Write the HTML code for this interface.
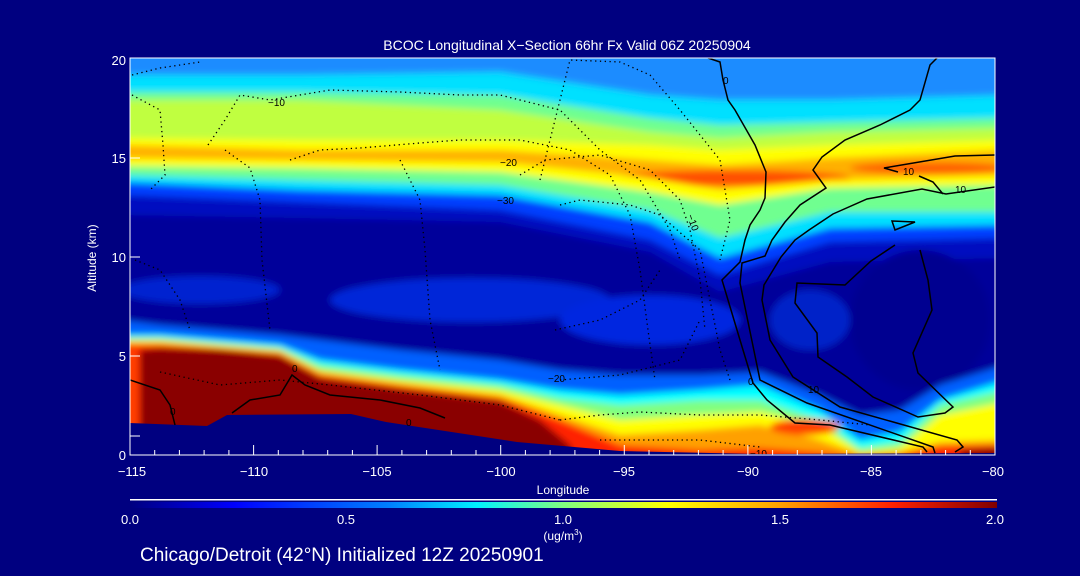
<!DOCTYPE html>
<html><head><meta charset="utf-8"><style>
html,body{margin:0;padding:0;background:#000080;}
svg{display:block;font-family:"Liberation Sans",sans-serif;}
</style></head><body>
<svg width="1080" height="576" viewBox="0 0 1080 576" xmlns="http://www.w3.org/2000/svg">
<defs>
<clipPath id="pc"><rect x="130" y="58" width="865" height="397"/></clipPath>
<filter id="bl" x="-5%" y="-5%" width="110%" height="110%"><feGaussianBlur stdDeviation="3.5"/></filter>
<linearGradient id="cb" x1="0" x2="1" y1="0" y2="0">
<stop offset="0" stop-color="#00007f"/><stop offset="0.12" stop-color="#0000ff"/>
<stop offset="0.3" stop-color="#0080ff"/><stop offset="0.4" stop-color="#00f0ff"/>
<stop offset="0.5" stop-color="#80ff80"/><stop offset="0.62" stop-color="#ffff00"/>
<stop offset="0.75" stop-color="#ffa000"/><stop offset="0.88" stop-color="#ff2000"/>
<stop offset="1" stop-color="#800000"/></linearGradient>
</defs>
<rect width="1080" height="576" fill="#000080"/>
<g clip-path="url(#pc)">
<g filter="url(#bl)">
<rect x="120" y="50" width="890" height="420" fill="#1a8cff"/>
<polygon fill="#00e0ff" points="120,75 300,75 500,72 650,95 720,100 830,100 1005,95 1005,470 120,470"/>
<polygon fill="#70ff90" points="120,92 300,92 500,95 650,118 720,125 830,122 1005,118 1005,470 120,470"/>
<polygon fill="#c0ff40" points="120,100 300,100 500,110 650,132 720,138 830,132 1005,128 1005,470 120,470"/>
<polygon fill="#ffff00" points="120,138 300,140 500,140 650,145 720,150 830,145 1005,140 1005,470 120,470"/>
<polygon fill="#ffb000" points="120,145 300,150 500,150 650,160 720,165 830,158 1005,150 1005,470 120,470"/>
<ellipse cx="730" cy="178" rx="120" ry="8" fill="#ff5000"/>
<ellipse cx="930" cy="168" rx="80" ry="6" fill="#ff6000"/>
<polygon fill="#ffff00" points="120,158 300,160 500,162 650,178 720,190 830,180 1005,175 1005,470 120,470"/>
<polygon fill="#70ff90" points="120,166 300,168 500,172 650,192 720,205 830,188 1005,185 1005,470 120,470"/>
<polygon fill="#00e0ff" points="120,175 300,180 500,185 650,210 720,238 830,212 1005,212 1005,470 120,470"/>
<polygon fill="#0040ff" points="120,182 300,190 500,195 650,222 720,258 830,228 1005,225 1005,470 120,470"/>
<polygon fill="#0010c0" points="120,195 300,202 500,210 650,240 720,275 830,242 1005,238 1005,470 120,470"/>
<polygon fill="#00009a" points="120,215 300,218 500,222 650,252 720,292 830,262 1005,258 1005,470 120,470"/>
<ellipse cx="200" cy="290" rx="80" ry="14" fill="#0020d0"/>
<ellipse cx="470" cy="300" rx="140" ry="22" fill="#0028d8"/>
<ellipse cx="650" cy="320" rx="90" ry="25" fill="#0028e0"/>
<ellipse cx="810" cy="320" rx="40" ry="30" fill="#0020c8"/>
<ellipse cx="920" cy="320" rx="70" ry="70" fill="#000090"/>
<polygon fill="#0060ff" points="120,320 160,325 220,330 280,335 320,340 400,350 500,360 560,370 620,375 700,375 760,372 820,395 860,415 900,410 940,385 1005,365 1005,470 120,470"/>
<polygon fill="#00ffff" points="120,335 160,335 220,340 280,345 320,360 400,370 500,380 560,390 620,395 700,390 760,385 820,410 860,440 900,432 940,400 1005,380 1005,470 120,470"/>
<polygon fill="#80ff80" points="120,338 160,338 220,343 280,348 320,365 400,375 500,385 560,398 620,405 700,400 760,400 820,420 860,448 900,442 940,405 1005,390 1005,470 120,470"/>
<polygon fill="#ffff00" points="120,340 160,340 220,345 280,350 320,370 400,380 500,390 560,405 620,420 700,415 760,412 820,425 860,452 900,448 940,415 1005,402 1005,470 120,470"/>
<polygon fill="#ffa000" points="120,342 160,342 220,347 280,352 320,372 400,383 500,395 560,415 620,435 700,430 760,425 820,440 860,454 900,452 940,442 1005,440 1005,470 120,470"/>
<ellipse cx="805" cy="427" rx="35" ry="8" fill="#ff4000"/>
<polygon fill="#ff2000" points="120,345 160,345 220,348 280,353 320,375 400,386 500,398 560,420 620,445 700,450 760,448 820,452 860,456 900,454 940,446 1005,445 1005,470 120,470"/>
<polygon fill="#8a0000" points="140,350 160,348 220,350 280,356 320,378 400,389 500,401 540,420 570,445 580,470 140,470"/>
<rect x="120" y="350" width="18" height="80" fill="#ff4000"/>
<polygon fill="#8a0000" points="960,450 1005,447 1005,470 960,470"/>
</g>
<polygon fill="#000080" points="130,423 207,426 227,415 351,414 386,422 517,442 620,451 758,454 995,453 995,460 130,460"/>
<g fill="none" stroke="#000" stroke-width="1.5">
<polyline points="708,58 720,62 723,80 728,100 735,110 755,145 766,172 765,198 760,210 750,225 745,240 740,262 722,280 740,340 753,383 767,400 795,423 830,425 923,447 927,452"/>
<polyline points="937,58 930,65 920,100 910,110 880,125 845,140 822,157 813,170 826,188 800,205 785,222 772,240 765,256 742,263 740,283 760,380 807,403 933,447 935,453"/>
<polyline points="995,187 946,194 922,189 867,199 833,214 809,230 795,240 781,257 764,285 762,300 770,340 793,377 840,407 957,440 963,447 955,452"/>
<polyline points="995,155 955,156 884,168 898,172"/>
<polyline points="919,176 933,182 943,194"/>
<polygon points="892,221 915,222 895,230"/>
<polyline points="920,250 928,280 932,310 913,353 918,373 953,407 945,413 918,417 873,397 847,377 818,357 817,333 795,303 797,283 845,285 871,261 895,245"/>
<polyline points="130,380 160,390 170,405 175,425"/>
<polyline points="232,413 250,400 280,395 292,375 305,385 330,395 380,400 420,408 445,418"/>
</g>
<g fill="none" stroke="#000" stroke-width="1.3" stroke-dasharray="1.3 3.5">
<polyline points="132,75 160,68 200,62"/>
<polyline points="132,95 160,110 163,145 165,175 150,190"/>
<polyline points="208,145 225,120 240,95 270,100 330,90 400,92 460,95 500,95 560,110 600,150 640,180 670,230 680,260"/>
<polyline points="225,150 250,168 260,200 262,260 270,330"/>
<polyline points="290,160 320,150 360,148 420,143 460,140 520,140 570,150 610,175 630,215 640,270 648,330 655,380"/>
<polyline points="400,160 420,200 425,250 430,320 440,370"/>
<polyline points="520,175 545,160 600,155 650,170 680,200 690,230 700,280 705,330"/>
<polyline points="560,205 580,200 630,205 660,215 700,250 710,300 720,350 730,380"/>
<polyline points="135,260 160,270 180,300 190,330"/>
<polyline points="540,180 570,60 620,62 650,75 680,110 720,160 730,220 720,260"/>
<polyline points="555,330 600,320 640,300 660,270"/>
<polyline points="560,380 620,375 680,360 700,320"/>
<polyline points="560,420 600,415 640,412 700,415 760,415 820,420 870,425"/>
<polyline points="600,440 700,440 760,447"/>
<polyline points="160,372 220,385 280,380 330,385 420,395 500,405 560,420"/>
</g>
<g font-size="10" fill="#000">
<text x="268" y="106">−10</text><text x="500" y="166">−20</text><text x="497" y="204">−30</text>
<text x="688" y="222" transform="rotate(70 692 218)">−10</text><text x="548" y="382">−20</text>
<text x="903" y="175">10</text><text x="955" y="193">10</text><text x="808" y="393">10</text>
<text x="750" y="457">−10</text><text x="723" y="84">0</text><text x="748" y="385">0</text>
<text x="170" y="415">0</text><text x="292" y="372">0</text><text x="406" y="426">0</text>
</g>
</g>
<rect x="130" y="58" width="865" height="397" fill="none" stroke="#fff" stroke-width="1"/>
<g stroke="#fff" stroke-width="1">
<path d="M130,455v-10M253.6,455v-10M377.1,455v-10M500.7,455v-10M624.3,455v-10M747.9,455v-10M871.4,455v-10M995,455v-10"/>
<path d="M154.7,455v-5M179.4,455v-5M204.1,455v-5M228.9,455v-5M278.3,455v-5M303,455v-5M327.7,455v-5M352.4,455v-5M401.9,455v-5M426.6,455v-5M451.3,455v-5M476,455v-5M525.4,455v-5M550.1,455v-5M574.9,455v-5M599.6,455v-5M649,455v-5M673.7,455v-5M698.4,455v-5M723.1,455v-5M772.6,455v-5M797.3,455v-5M822,455v-5M846.7,455v-5M896.1,455v-5M920.9,455v-5M945.6,455v-5M970.3,455v-5"/>
<path d="M130,356h10M130,257h10M130,158h10M130,436h10"/>
</g>
<g fill="#fff" font-size="13" text-anchor="middle">
<text x="132" y="476">−115</text><text x="254" y="476">−110</text><text x="377" y="476">−105</text>
<text x="501" y="476">−100</text><text x="624" y="476">−95</text><text x="748" y="476">−90</text>
<text x="871" y="476">−85</text><text x="993" y="476">−80</text>
<text x="563" y="494" font-size="12">Longitude</text>
<text x="567" y="50" font-size="14">BCOC Longitudinal X−Section 66hr  Fx Valid 06Z 20250904</text>
</g>
<g fill="#fff" font-size="13" text-anchor="end">
<text x="126" y="65">20</text><text x="126" y="163">15</text><text x="126" y="262">10</text>
<text x="126" y="361">5</text><text x="126" y="460">0</text>
</g>
<text x="96" y="258" fill="#fff" font-size="12" text-anchor="middle" transform="rotate(-90 96 258)">Altitude (km)</text>
<rect x="130" y="499" width="867" height="1.5" fill="#fff"/>
<rect x="130" y="502" width="867" height="6" fill="url(#cb)"/>
<g fill="#fff" font-size="13" text-anchor="middle">
<text x="130" y="524">0.0</text><text x="346" y="524">0.5</text><text x="563" y="524">1.0</text>
<text x="780" y="524">1.5</text><text x="995" y="524">2.0</text>
<text x="563" y="540" font-size="12">(ug/m<tspan font-size="8" dy="-5">3</tspan><tspan dy="5">)</tspan></text>
</g>
<text x="140" y="561" fill="#fff" font-size="19">Chicago/Detroit (42°N) Initialized 12Z 20250901</text>
</svg>
</body></html>
